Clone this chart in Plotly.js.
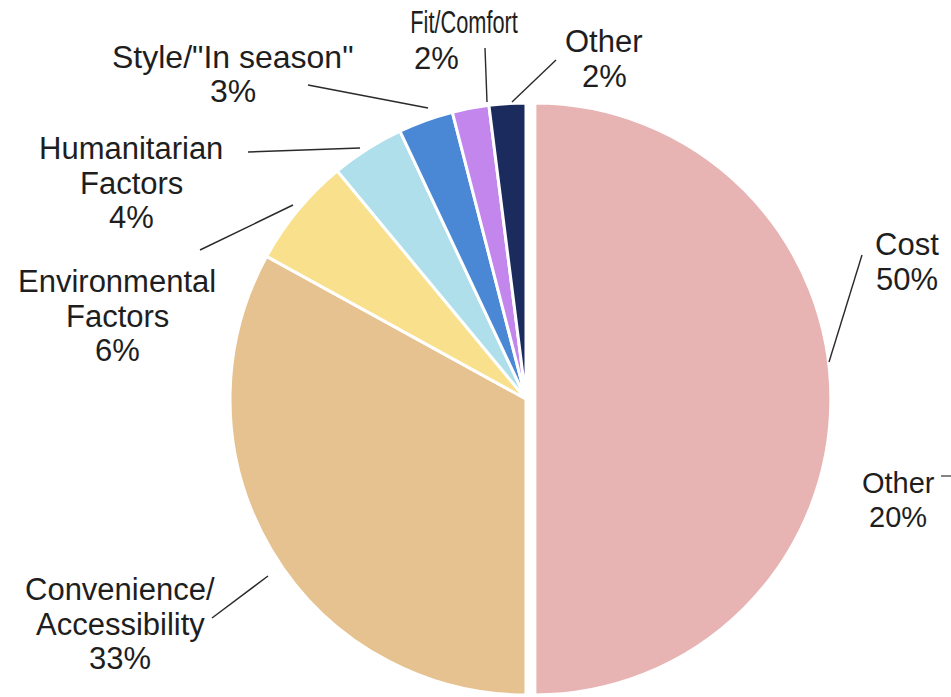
<!DOCTYPE html>
<html>
<head>
<meta charset="utf-8">
<script src="https://cdn.plot.ly/plotly-3.0.1.min.js"></script>
<style>
html,body{margin:0;padding:0;overflow:hidden;background:#fff;}
#chart{width:951px;height:706px;}
</style>
</head>
<body>
<div id="chart"></div>
<script>
// Data
const categories = ["Cost", "Convenience/Accessibility", "Environmental Factors", "Humanitarian Factors", "Style/\"In season\"", "Fit/Comfort", "Other"];
const values = [50, 33, 6, 4, 3, 2, 2];
const sliceColors = ["#e8b3b3", "#e6c290", "#f8e08c", "#aedfea", "#4a88d6", "#c386ec", "#1c2b5e"];
const labelTexts = ["Cost<br>50%", "Convenience/<br>Accessibility<br>33%", "Environmental<br>Factors<br>6%", "Humanitarian<br>Factors<br>4%", "Style/\"In season\"<br>3%", "Fit/Comfort<br>2%", "Other<br>2%"];
const strayLabel = "Other<br>20%";

const W = 951, H = 706;
const px = (x) => x / W;
const py = (y) => 1 - y / H;

// label block centre positions (pixels) and leader lines (pixels)
const labelPos = [[907, 262], [120, 624], [117, 316], [131, 183], [233, 74], [450, 40], [604, 59]];
const leaders = [
  [[862, 255], [829, 362]],
  [[212, 618], [268, 576]],
  [[200, 250], [293, 205]],
  [[248, 152], [360, 148]],
  [[308, 85], [428, 108]],
  [[485, 48], [487, 102]],
  [[556, 60], [512, 102]]
];

const FONT = "Liberation Sans, Arial, sans-serif";
const LINE = 34.5;
const annotations = [];
function addLine(ln, x, y, size) {
  annotations.push({
    text: ln, xref: "paper", yref: "paper",
    x: px(x), y: py(y), xanchor: "center", yanchor: "middle",
    showarrow: false, align: "center",
    font: {family: FONT, size: size, color: "#1e1e1e"}
  });
}
function addBlock(text, cxp, cyp, size) {
  const lines = text.split("<br>");
  const n = lines.length;
  lines.forEach((ln, k) => addLine(ln, cxp, cyp + (k - (n - 1) / 2) * LINE, size));
}
labelTexts.forEach((t, i) => {
  if (i === 5) {
    const parts = t.split("<br>");
    addLine(parts[0], 464, 22, 32);
    addLine(parts[1], 436, 58, 31);
  } else {
    addBlock(t, labelPos[i][0], labelPos[i][1], i === 4 ? 32 : 31);
  }
});
addBlock(strayLabel, 898, 500, 29);

const shapes = leaders.map(l => ({
  type: "line", xref: "paper", yref: "paper",
  x0: px(l[0][0]), y0: py(l[0][1]), x1: px(l[1][0]), y1: py(l[1][1]),
  line: {color: "#2a2a2a", width: 1.4}
}));
shapes.push({type: "line", xref: "paper", yref: "paper", x0: px(941), y0: py(476), x1: px(951), y1: py(476), line: {color: "#333", width: 1.2}});

const pull = 0.03;
const r = 296, cx = 526, cy = 399;
const half = r * (1 + pull);

const trace = {
  type: "pie",
  labels: categories,
  values: values,
  sort: false,
  direction: "clockwise",
  rotation: 0,
  pull: [pull, 0, 0, 0, 0, 0, 0],
  marker: {colors: sliceColors, line: {color: "#ffffff", width: 3}},
  textinfo: "none",
  hoverinfo: "label+percent",
  showlegend: false,
  domain: {x: [px(cx - half), px(cx + half)], y: [py(cy + half), py(cy - half)]}
};

const layout = {
  width: W, height: H,
  margin: {l: 0, r: 0, t: 0, b: 0},
  paper_bgcolor: "#ffffff",
  showlegend: false,
  annotations: annotations,
  shapes: shapes
};

Plotly.newPlot("chart", [trace], layout, {displayModeBar: false, staticPlot: true}).then(() => {
  // condense the "Fit/Comfort" label horizontally, as in the original
  document.querySelectorAll("#chart text.annotation-text").forEach(t => {
    if (t.textContent === "Fit/Comfort") {
      const b = t.getBBox();
      const c = b.x + b.width / 2;
      t.setAttribute("transform", "translate(" + c + ",0) scale(0.68,1) translate(" + (-c) + ",0)");
    }
  });
});
</script>
</body>
</html>
